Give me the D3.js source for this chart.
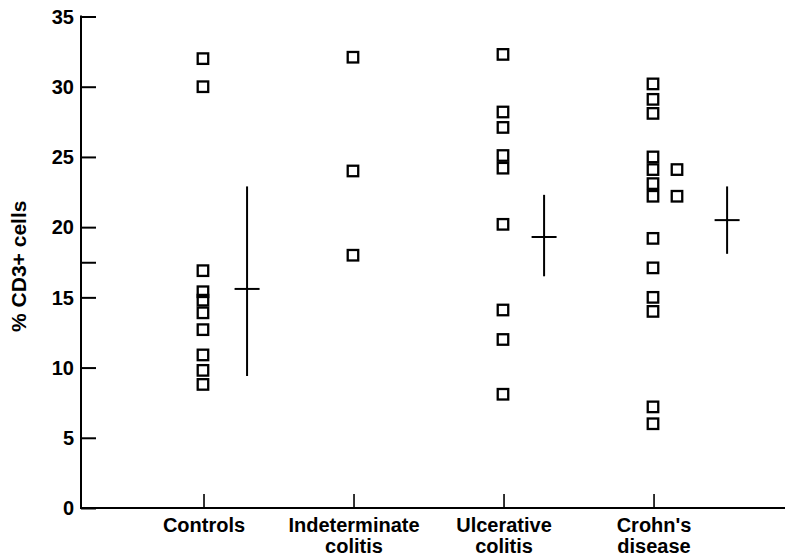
<!DOCTYPE html>
<html>
<head>
<meta charset="utf-8">
<script src="https://cdn.jsdelivr.net/npm/d3@7"></script>
<style>
  body { margin: 0; background: #fff; }
  svg { display: block; }
  text { font-family: "Liberation Sans", Arial, sans-serif; font-weight: bold; fill: #000; }
</style>
</head>
<body>
<svg id="chart" width="785" height="559"></svg>
<script>
// groups on the x axis
const categories = ["Controls", "Indeterminate\ncolitis", "Ulcerative\ncolitis", "Crohn's\ndisease"];

// individual values (% CD3+ cells) per group
const controls = [32.0, 30.0, 16.9, 15.4, 14.8, 13.9, 12.7, 10.9, 9.8, 8.8];
const indeterminate = [32.1, 24.0, 18.0];
const ulcerative = [32.3, 28.2, 27.1, 25.1, 24.2, 20.2, 14.1, 12.0, 8.1];
const crohns = [30.2, 29.1, 28.1, 25.0, 24.1, 23.1, 22.2, 19.2, 17.1, 15.0, 14.0, 7.2, 6.0];
const crohnsExtra = [24.1, 22.2];   // second column beside the main one

// summary: mean with range bar (group index, mean, low, high)
const summaryGroup = [0, 2, 3];
const summaryMean = [15.6, 19.3, 20.5];
const summaryLow = [9.4, 16.5, 18.1];
const summaryHigh = [22.9, 22.3, 22.9];

const yTicks = [0, 5, 10, 15, 17.5, 20, 25, 30, 35];
const yTickLabels = ["0", "5", "10", "15", "", "20", "25", "30", "35"];

// layout
const axisX = 81, axisY = 508, topY = 16.5, rightX = 785;
const meanShift = [0.287, 0, 0.267, 0.487];   // where the summary cross sits, in category units
const extraShift = 0.153;
const box = 10.5, halfBar = 12.5;
const fontSize = 20;

const svg = d3.select('#chart');

const y = d3.scaleLinear().domain([0, 35]).range([axisY, topY]);
const x = d3.scaleLinear().domain([-0.82, 3.873]).range([axisX, rightX]);

// points table
const points = [];
[controls, indeterminate, ulcerative, crohns].forEach((arr, gi) => {
    arr.forEach(v => points.push({ g: gi, v, shift: -0.007 }));
});
crohnsExtra.forEach(v => points.push({ g: 3, v, shift: extraShift }));

// y axis
const yAxis = d3.axisRight(y)
    .tickValues(yTicks)
    .tickSize(15)
    .tickFormat('');
const yG = svg.append('g')
    .attr('transform', `translate(${axisX},0)`)
    .call(yAxis);
yG.select('.domain').remove();
yG.selectAll('.tick line').attr('stroke', '#000').attr('stroke-width', 2);

svg.append('line')
    .attr('x1', axisX).attr('x2', axisX)
    .attr('y1', y(35) - 1).attr('y2', axisY + 1)
    .attr('stroke', '#000').attr('stroke-width', 2);

svg.append('g').selectAll('text')
    .data(yTicks)
    .join('text')
    .attr('x', 74)
    .attr('y', d => y(d))
    .attr('dy', '0.36em')
    .attr('text-anchor', 'end')
    .attr('font-size', fontSize)
    .text((d, i) => yTickLabels[i]);

svg.append('text')
    .attr('transform', `translate(26,${(y(0) + y(35)) / 2 + 4}) rotate(-90)`)
    .attr('text-anchor', 'middle')
    .attr('font-size', fontSize + 1)
    .text('% CD3+ cells');

// x axis
svg.append('line')
    .attr('x1', axisX).attr('x2', rightX)
    .attr('y1', axisY).attr('y2', axisY)
    .attr('stroke', '#000').attr('stroke-width', 2);

const xG = svg.append('g');
xG.selectAll('line')
    .data(categories)
    .join('line')
    .attr('x1', (d, i) => x(i)).attr('x2', (d, i) => x(i))
    .attr('y1', axisY).attr('y2', axisY - 14)
    .attr('stroke', '#000').attr('stroke-width', 1.6);

xG.selectAll('text')
    .data(categories)
    .join('text')
    .attr('x', (d, i) => x(i))
    .attr('y', 532)
    .attr('text-anchor', 'middle')
    .attr('font-size', fontSize)
    .each(function (d, i) {
        const lines = d.split('\n');
        d3.select(this).selectAll('tspan')
            .data(lines)
            .join('tspan')
            .attr('x', x(i))
            .attr('dy', (l, j) => j ? 21 : 0)
            .text(l => l);
    });

// individual points as open squares
svg.append('g').selectAll('rect')
    .data(points)
    .join('rect')
    .attr('x', d => x(d.g + d.shift) - box / 2)
    .attr('y', d => y(d.v) - box / 2)
    .attr('width', box)
    .attr('height', box)
    .attr('fill', 'none')
    .attr('stroke', '#000')
    .attr('stroke-width', 2.3);

// mean and range crosses
const crossG = svg.append('g')
    .selectAll('g')
    .data(summaryGroup)
    .join('g');
crossG.append('line')
    .attr('x1', (g) => x(g + meanShift[g])).attr('x2', (g) => x(g + meanShift[g]))
    .attr('y1', (g, i) => y(summaryHigh[i])).attr('y2', (g, i) => y(summaryLow[i]))
    .attr('stroke', '#000').attr('stroke-width', 2);
crossG.append('line')
    .attr('x1', (g) => x(g + meanShift[g]) - halfBar).attr('x2', (g) => x(g + meanShift[g]) + halfBar)
    .attr('y1', (g, i) => y(summaryMean[i])).attr('y2', (g, i) => y(summaryMean[i]))
    .attr('stroke', '#000').attr('stroke-width', 2);
</script>
</body>
</html>
